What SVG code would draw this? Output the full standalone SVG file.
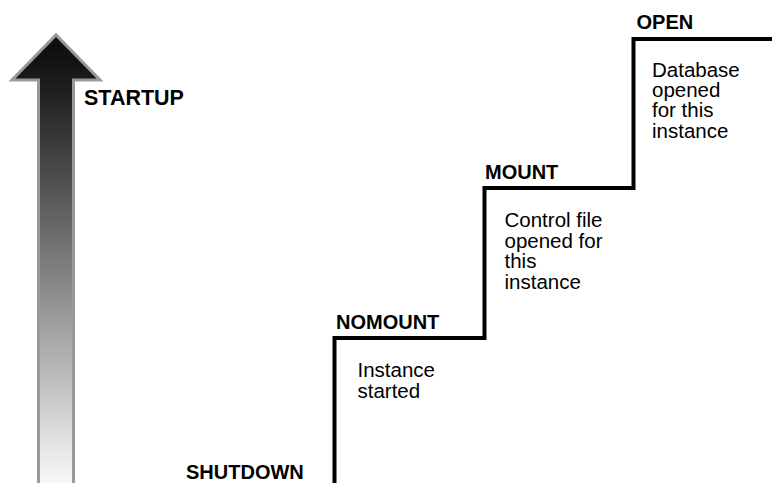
<svg xmlns="http://www.w3.org/2000/svg" width="772" height="483" viewBox="0 0 772 483">
<style>
.b{font-family:"Liberation Sans",Arial,Helvetica,sans-serif;font-weight:bold;font-size:20px;fill:#000}
.t{font-family:"Liberation Sans",Arial,Helvetica,sans-serif;font-size:20.5px;fill:#000}
.step{fill:none;stroke:#000;stroke-width:4}
</style>
<defs>
<linearGradient id="g" x1="0" y1="35" x2="0" y2="485" gradientUnits="userSpaceOnUse">
<stop offset="0" stop-color="#0a0a0a"/>
<stop offset="0.12" stop-color="#1e1e1e"/>
<stop offset="0.5" stop-color="#7a7a7a"/>
<stop offset="1" stop-color="#fafafa"/>
</linearGradient>
</defs>
<g id="arrow">
<path d="M38.5,486 L38.5,80 L12,80 L56,35 L100,80 L73.5,80 L73.5,486 Z" fill="url(#g)" stroke="#999" stroke-width="3"/>
</g>
<g id="connectors">
<path class="step" d="M334.5,483 L334.5,338 L484.5,338 L484.5,188 L633.5,188 L633.5,39 L772,39"/>
</g>
<g id="startup"><text class="b" x="84" y="105" style="font-size:21.5px">STARTUP</text></g>
<g id="shutdown"><text class="b" x="186" y="479">SHUTDOWN</text></g>
<g id="nomount">
<text class="b" x="336" y="329">NOMOUNT</text>
<text class="t" x="357.5" y="377">Instance<tspan x="357.5" dy="21">started</tspan></text>
</g>
<g id="mount">
<text class="b" x="485" y="178.5">MOUNT</text>
<text class="t" x="504.5" y="227">Control file<tspan x="504.5" dy="20.5">opened for</tspan><tspan x="504.5" dy="20.5">this</tspan><tspan x="504.5" dy="20.5">instance</tspan></text>
</g>
<g id="open">
<text class="b" x="636.5" y="28.5">OPEN</text>
<text class="t" x="652" y="77">Database<tspan x="652" dy="20.2">opened</tspan><tspan x="652" dy="20.2">for this</tspan><tspan x="652" dy="20.2">instance</tspan></text>
</g>
</svg>
